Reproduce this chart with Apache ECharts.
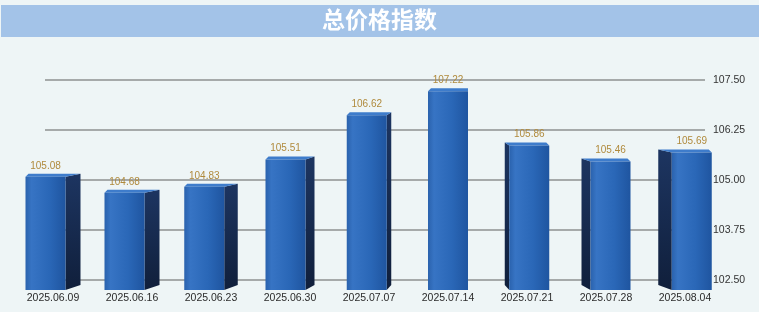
<!DOCTYPE html>
<html><head><meta charset="utf-8">
<script src="https://cdn.jsdelivr.net/npm/echarts@6/dist/echarts.min.js"></script>
<style>html,body{margin:0;padding:0;background:#eef5f6;}#c{width:759px;height:312px;}</style>
</head><body><div id="c"></div>
<script>
const titleText = '总价格指数';
const categories = ['2025.06.09','2025.06.16','2025.06.23','2025.06.30','2025.07.07','2025.07.14','2025.07.21','2025.07.28','2025.08.04'];
const values = [105.08, 104.68, 104.83, 105.51, 106.62, 107.22, 105.86, 105.46, 105.69];
const yMin = 102.5, yMax = 107.5, yInterval = 1.25;

const chart = echarts.init(document.getElementById('c'));
const FRONT = 40, centerIdx = 5;
function renderItem(params, api) {
  const i = api.value(0), v = api.value(1);
  const top = api.coord([i, v]);
  const bot = api.coord([i, 102.25]);
  const d = i - centerIdx;
  const sw = Math.min(15, 4.5 * Math.abs(d));
  const total = FRONT + sw;
  const x0 = top[0] - total / 2;
  let fx, sx, sxe;
  if (d <= 0) { fx = x0; sx = x0 + FRONT; sxe = sx + sw; }
  else { sx = x0; sxe = x0 + sw; fx = sxe; }
  const yT = top[1], yB = bot[1];
  const children = [];
  // side face
  if (sw > 0) {
    let pts;
    if (d <= 0) pts = [[sx, yT], [sxe, yT - 3], [sxe, yB - 5], [sx, yB]];
    else pts = [[sx, yT - 3], [sxe, yT], [sxe, yB], [sx, yB - 5]];
    children.push({type:'polygon', shape:{points:pts}, style:{fill:new echarts.graphic.LinearGradient(0,0,0,1,[{offset:0,color:'#1d3561'},{offset:1,color:'#101f3b'}])}});
  }
  // top cap
  let capPts;
  if (d <= 0) capPts = [[fx, yT], [fx + FRONT, yT], [fx + FRONT + sw, yT - 3], [fx + 3, yT - 3]];
  else capPts = [[fx, yT], [fx + FRONT, yT], [fx + FRONT - 3, yT - 3], [fx - sw, yT - 3]];
  children.push({type:'polygon', shape:{points:capPts}, style:{fill:'#3e7ccb'}});
  // front face
  children.push({type:'rect', shape:{x:fx, y:yT, width:FRONT, height:yB - yT},
    style:{fill:new echarts.graphic.LinearGradient(0,0,1,0,[{offset:0,color:'#2a62ad'},{offset:0.15,color:'#3774c4'},{offset:0.6,color:'#2a67b7'},{offset:1,color:'#1f55a0'}])}});
  // value label
  children.push({type:'text', style:{text:v.toFixed(2), x:fx + FRONT/2, y:yT - 6, textAlign:'center', textVerticalAlign:'bottom',
    fill:'#b08a3c', font:'10px "Liberation Sans", Arial, sans-serif'}});
  return {type:'group', children};
}

chart.setOption({
  backgroundColor:'#eef5f6',
  animation:false,
  graphic:[
    {type:'rect', left:1, top:5, shape:{width:758, height:32}, style:{fill:'#a3c3e8'}},
    {type:'text', left:'center', top:8, style:{text:titleText, fill:'#ffffff', font:'bold 23px "Noto Sans CJK SC", sans-serif'}}
  ],
  grid:[
    {left:13.5, right:34.5, top:80, bottom:22},
    {left:45, right:54, top:80, bottom:32}
  ],
  xAxis:[
    {type:'category', gridIndex:0, data:categories, axisLine:{show:false}, axisTick:{show:false},
     axisLabel:{margin:3, color:'#2b2b2b', fontSize:10.5, fontFamily:'"Liberation Sans", Arial, sans-serif', interval:0}},
    {type:'value', gridIndex:1, show:false}
  ],
  yAxis:[
    {type:'value', gridIndex:0, min:102.25, max:107.5, show:false},
    {type:'value', gridIndex:1, position:'right', min:yMin, max:yMax, interval:yInterval,
     axisLine:{show:false}, axisTick:{show:false},
     splitLine:{show:true, lineStyle:{color:'#8e9091', width:1.5}},
     axisLabel:{margin:8, color:'#333', fontSize:10.5, fontFamily:'"Liberation Sans", Arial, sans-serif', formatter:v=>v.toFixed(2)}}
  ],
  series:[{
    type:'custom', xAxisIndex:0, yAxisIndex:0, renderItem,
    data: values.map((v,i)=>[i,v]), z:5
  }]
});
</script></body></html>
